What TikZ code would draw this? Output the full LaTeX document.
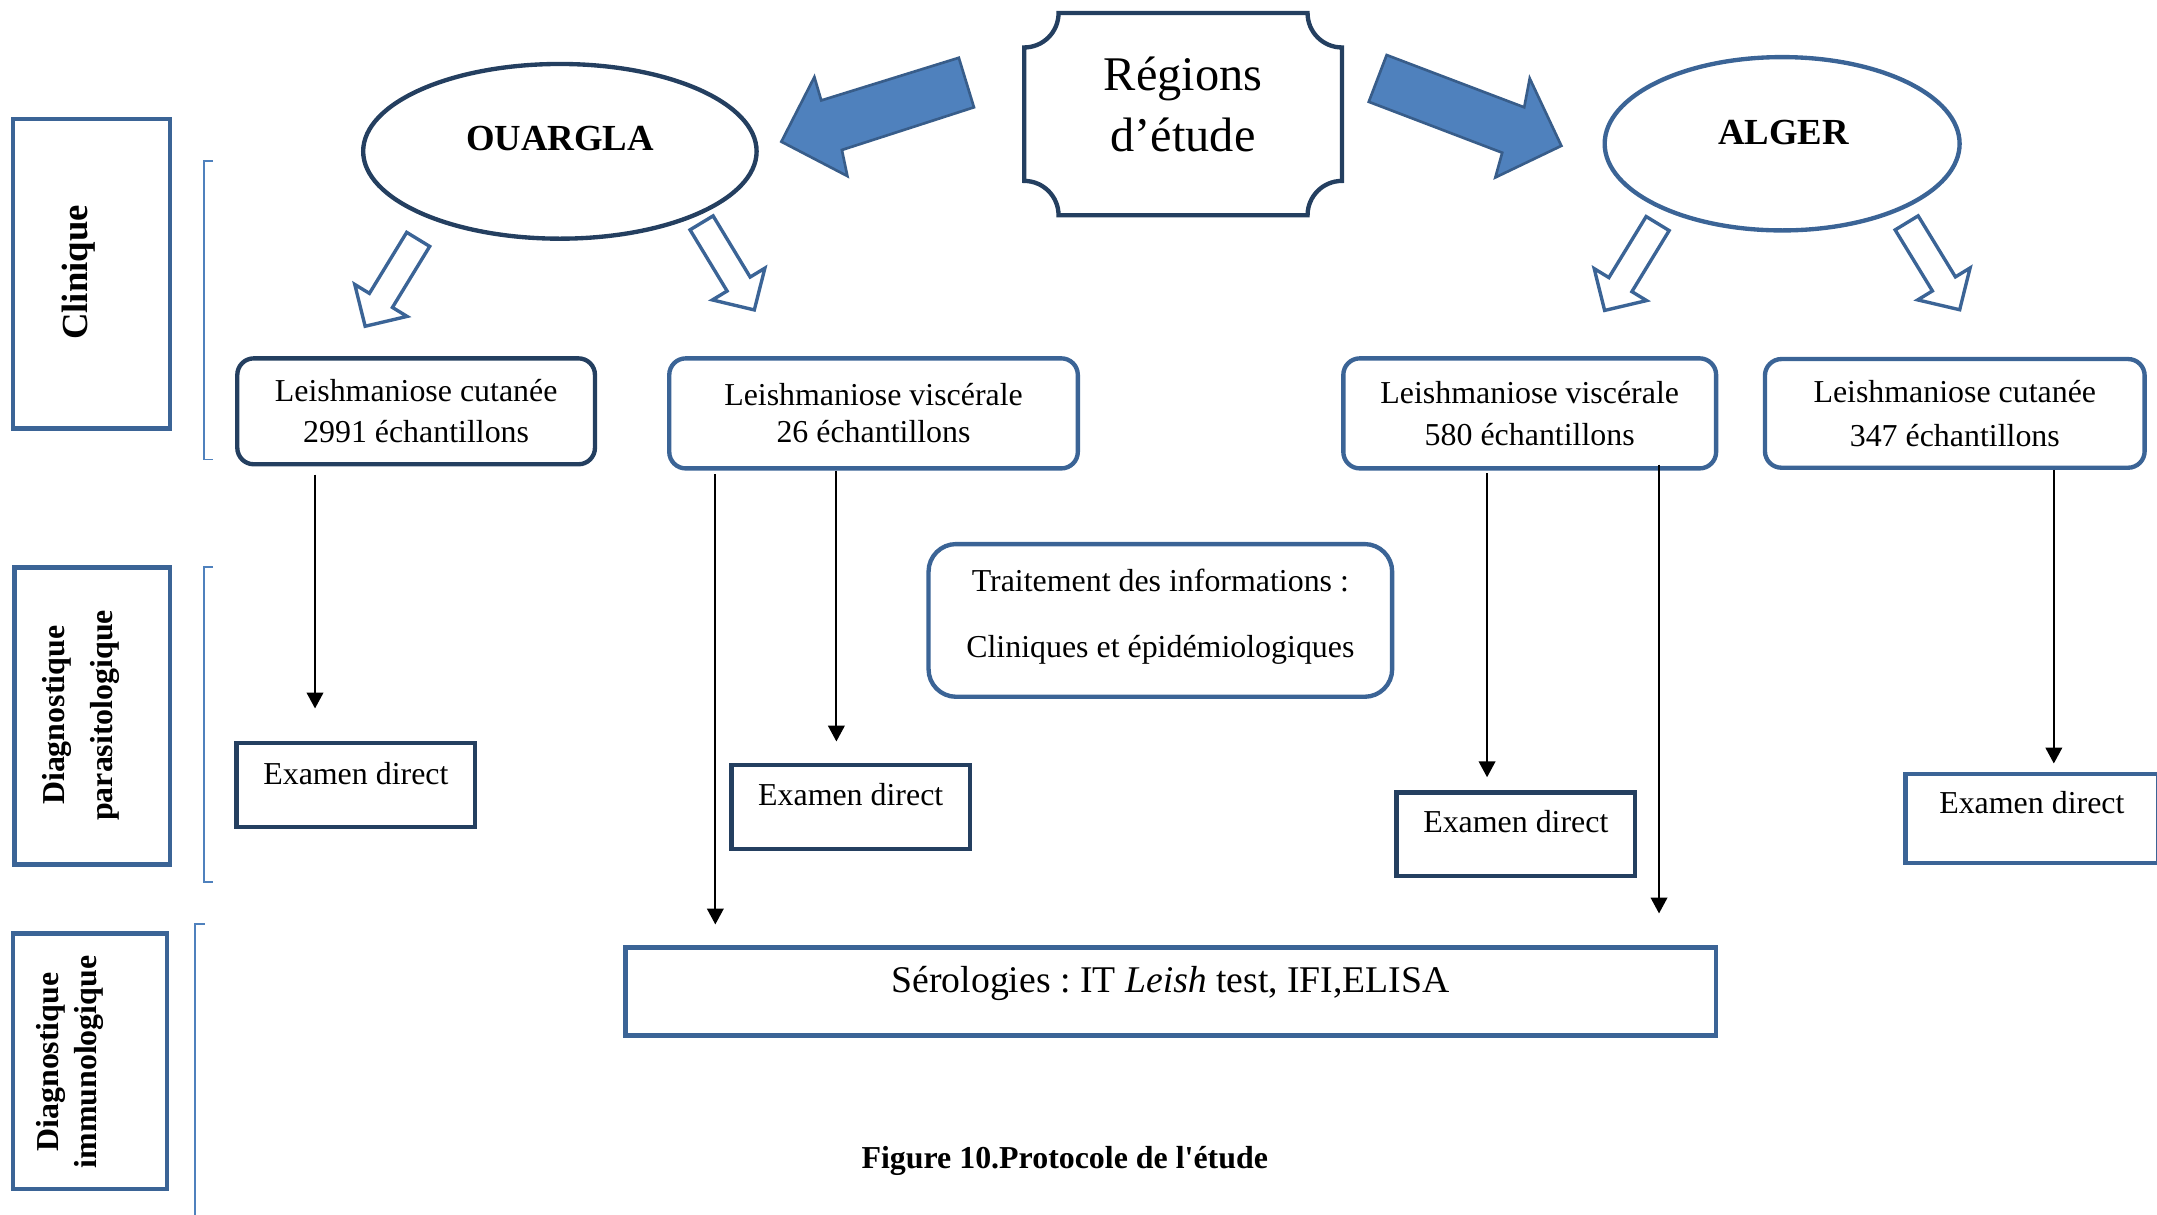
\documentclass[tikz,border=0pt]{standalone}
\usepackage{fontspec}
\setmainfont{Liberation Serif}[Ligatures=TeXOff]
\usetikzlibrary{shapes.geometric,arrows.meta,calc}
\frenchspacing
\newdimen\pu \pu=0.02cm
\definecolor{navy}{HTML}{243F60}
\definecolor{steel}{HTML}{3B6496}
\definecolor{accent}{HTML}{4F81BD}
\definecolor{accentdk}{HTML}{385D8A}
\newcommand{\fs}[2]{\fontsize{#1}{#2}\selectfont}
\newcommand{\harrow}[3]{%
  \draw[hollow,shift={(#1,#2)},rotate=#3]
    (0,-9.8) -- (52,-9.8) -- (52,-22.3) -- (74,0) -- (52,22.3) -- (52,9.8) -- (0,9.8) -- cycle;}
\begin{document}
\begin{tikzpicture}[x=0.02cm,y=-0.02cm,
  sidebox/.style={draw=steel,line width=1.8pt,inner sep=0pt},
  sidetext/.style={rotate=90,font=\fs{13.2}{17}\bfseries,align=center,inner sep=0pt},
  rbox/.style={draw=#1,line width=1.8pt,rounded corners=0.24cm,align=center,inner sep=0pt,font=\fs{13.2}{17}},
  exbox/.style={draw=#1,line width=1.8pt,inner sep=0pt,text height=9.2pt,font=\fs{13.2}{16}},
  region/.style={draw=#1,line width=1.8pt,ellipse,inner sep=0pt},
  title/.style={font=\fs{15.2}{18}\bfseries,inner sep=0pt},
  bracket/.style={draw=accent,line width=0.8pt},
  flow/.style={-{Triangle[length=2.3mm,width=2.4mm]},line width=0.85pt},
  hollow/.style={draw=steel,fill=white,line width=1.4pt,line join=miter},
  bigarrow/.style={draw=accentdk,fill=accent,line width=1.1pt,line join=miter},
]
\clip (0,0) rectangle (1568,883);

% side labels
\node[sidebox,minimum width=114*\pu,minimum height=225*\pu] (cl) at (66.5,199) {};
\node[sidetext,font=\fs{15.2}{18}\bfseries] (clt) at (57,198) {Clinique};
\node[sidebox,minimum width=113*\pu,minimum height=216*\pu] (dp) at (67,520.5) {};
\node[sidetext,font=\fs{13.2}{20}\bfseries] (dpt) at (59,520) {Diagnostique\\parasitologique};
\node[sidebox,minimum width=112*\pu,minimum height=186*\pu] (di) at (65.5,771.5) {};
\node[sidetext,font=\fs{13.2}{15.5}\bfseries] (dit) at (51,772) {Diagnostique\\immunologique};

% brackets
\draw[bracket] (155,117) -- (148,117) -- (148,334) -- (155,334);
\draw[bracket] (155,412) -- (148,412) -- (148,641) -- (155,641);
\draw[bracket] (149,672) -- (142,672) -- (142,890);

% regions
\node[region=navy,minimum width=286*\pu,minimum height=127*\pu] (oua) at (407,110) {};
\node[title] (ouat) at (407,101) {OUARGLA};
\node[region=steel,minimum width=258*\pu,minimum height=126*\pu] (alg) at (1295.5,104.5) {};
\node[title] (algt) at (1296.5,96) {ALGER};

% Regions d'etude plaque
\draw[navy,line width=1.8pt]
  (769.5,9.5) -- (950.5,9.5) .. controls (950.5,23.3) and (961.7,34.5) .. (975.5,34.5)
  -- (975.5,131.5) .. controls (961.7,131.5) and (950.5,142.7) .. (950.5,156.5)
  -- (769.5,156.5) .. controls (769.5,142.7) and (758.3,131.5) .. (744.5,131.5)
  -- (744.5,34.5) .. controls (758.3,34.5) and (769.5,23.3) .. (769.5,9.5) -- cycle;
\node[font=\fs{20}{25.5},align=center,inner sep=0pt] (reg) at (860,76) {Régions\\d’étude};

% big arrows
\draw[bigarrow] (697,42) -- (597,73) -- (592,56) -- (568,103) -- (616,128) -- (612,109) -- (708,78) -- cycle;
\draw[bigarrow] (1008,40) -- (1108,78) -- (1112,57) -- (1135,106) -- (1087,129) -- (1092,111) -- (995,74) -- cycle;

% hollow arrows
\harrow{304}{174}{238.6}
\harrow{510}{162}{-58.8}
\harrow{1205}{162.5}{238.6}
\harrow{1386}{162}{-58.6}

% clinical boxes
\node[rbox=navy,minimum width=260*\pu,minimum height=77*\pu] (b1) at (302.5,299) {Leishmaniose cutanée\\2991 échantillons};
\node[rbox=steel,minimum width=297*\pu,minimum height=80*\pu,font=\fs{13.2}{15.3}] (b2) at (635,300.5) {Leishmaniose viscérale\\26 échantillons};
\node[rbox=steel,minimum width=271*\pu,minimum height=80*\pu,font=\fs{13.2}{17.6}] (b3) at (1112,300.5) {Leishmaniose viscérale\\580 échantillons};
\node[rbox=steel,minimum width=276*\pu,minimum height=79*\pu,font=\fs{13.2}{18}] (b4) at (1421,300.5) {Leishmaniose cutanée\\347 échantillons};

\node[rbox=steel,rounded corners=0.4cm,minimum width=337*\pu,minimum height=111*\pu,font=\fs{13.2}{27.2}] (tr) at (843.5,451) {Traitement des informations :\\Cliniques et épidémiologiques\vspace{3pt}};

% examen direct
\node[exbox=navy,minimum width=173.4*\pu,minimum height=61*\pu,text depth=9.2pt] (e1) at (258.7,570.6) {Examen direct};
\node[exbox=navy,minimum width=173.4*\pu,minimum height=61*\pu,text depth=10.5pt] (e2) at (618.4,586.7) {Examen direct};
\node[exbox=navy,minimum width=173.4*\pu,minimum height=61*\pu,text depth=11pt] (e3) at (1101.9,606.5) {Examen direct};
\node[exbox=steel,minimum width=183.8*\pu,minimum height=65*\pu,text depth=13.4pt] (e4) at (1477,595) {Examen direct};

% serologies
\node[draw=steel,line width=1.8pt,inner sep=0pt,minimum width=792.7*\pu,minimum height=63.9*\pu,
  font=\fs{15.6}{18},text height=10.9pt,text depth=9.9pt] (se) at (851,720.7)
  {Sérologies : IT \textit{Leish} test, IFI,ELISA};

% flow arrows
\coordinate (t1) at (229,515);
\coordinate (t2) at (520,672);
\coordinate (t3) at (608,539);
\coordinate (t4) at (1081,565);
\coordinate (t5) at (1206,664);
\coordinate (t6) at (1493,555);
\draw[flow,shorten <=3.4pt] (b1.south -| t1) -- (t1);
\draw[flow,shorten <=1.5pt] (b2.south -| t2) -- (t2);
\draw[flow] (b2.south -| t3) -- (t3);
\draw[flow,shorten <=1pt] (b3.south -| t4) -- (t4);
\draw[flow,shorten <=-2.5pt] (b3.south -| t5) -- (t5);
\draw[flow] (b4.south -| t6) -- (t6);

% caption
\node[font=\fs{13.2}{16}\bfseries,inner sep=0pt] (cap) at (774,843.6) {Figure 10.Protocole de l'étude};
\end{tikzpicture}
\end{document}
